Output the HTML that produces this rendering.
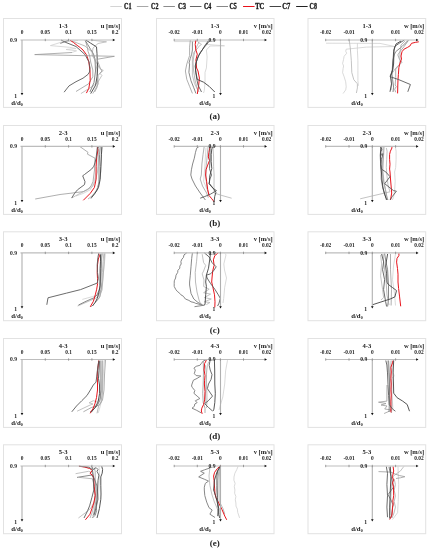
<!DOCTYPE html>
<html><head><meta charset="utf-8"><style>
html,body{margin:0;padding:0;background:#fff;width:429px;height:550px;overflow:hidden}
svg{display:block;will-change:transform}
</style></head><body>
<svg width="429" height="550" viewBox="0 0 429 550" font-family="Liberation Serif" font-weight="bold">
<rect width="429" height="550" fill="#fff"/>
<line x1="110.30" y1="6.5" x2="121.80" y2="6.5" stroke="#d4d4d4" stroke-width="1"/>
<text x="124.00" y="8.9" font-size="7.2" fill="#1a1a1a" stroke="#1a1a1a" stroke-width="0.3" textLength="7.60" lengthAdjust="spacingAndGlyphs">C1</text>
<line x1="136.85" y1="6.5" x2="148.35" y2="6.5" stroke="#a8a8a8" stroke-width="1"/>
<text x="151.10" y="8.9" font-size="7.2" fill="#1a1a1a" stroke="#1a1a1a" stroke-width="0.3" textLength="7.30" lengthAdjust="spacingAndGlyphs">C2</text>
<line x1="163.40" y1="6.5" x2="174.90" y2="6.5" stroke="#8c8c8c" stroke-width="1"/>
<text x="178.10" y="8.9" font-size="7.2" fill="#1a1a1a" stroke="#1a1a1a" stroke-width="0.3" textLength="8.10" lengthAdjust="spacingAndGlyphs">C3</text>
<line x1="189.95" y1="6.5" x2="201.45" y2="6.5" stroke="#666" stroke-width="1"/>
<text x="203.90" y="8.9" font-size="7.2" fill="#1a1a1a" stroke="#1a1a1a" stroke-width="0.3" textLength="7.40" lengthAdjust="spacingAndGlyphs">C4</text>
<line x1="216.50" y1="6.5" x2="228.00" y2="6.5" stroke="#888" stroke-width="1"/>
<text x="229.50" y="8.9" font-size="7.2" fill="#1a1a1a" stroke="#1a1a1a" stroke-width="0.3" textLength="7.40" lengthAdjust="spacingAndGlyphs">C5</text>
<line x1="243.05" y1="6.5" x2="254.55" y2="6.5" stroke="#e8111a" stroke-width="1"/>
<text x="255.30" y="8.9" font-size="7.2" fill="#1a1a1a" stroke="#1a1a1a" stroke-width="0.3" textLength="9.00" lengthAdjust="spacingAndGlyphs">TC</text>
<line x1="269.60" y1="6.5" x2="281.10" y2="6.5" stroke="#444" stroke-width="1"/>
<text x="282.30" y="8.9" font-size="7.2" fill="#1a1a1a" stroke="#1a1a1a" stroke-width="0.3" textLength="8.00" lengthAdjust="spacingAndGlyphs">C7</text>
<line x1="296.15" y1="6.5" x2="307.65" y2="6.5" stroke="#222" stroke-width="1"/>
<text x="309.60" y="8.9" font-size="7.2" fill="#1a1a1a" stroke="#1a1a1a" stroke-width="0.3" textLength="7.30" lengthAdjust="spacingAndGlyphs">C8</text>
<rect x="3.50" y="18.50" width="118.00" height="88.90" fill="none" stroke="#e2e2e2" stroke-width="1"/>
<polyline points="78.0,40.5 61.5,42.1 50.4,45.6 69.6,47.3 76.0,48.5 66.0,49.5 76.6,50.8 72.0,52.5 72.0,52.5" fill="none" stroke="#d0d0d0" stroke-width="0.8" stroke-linejoin="round"/>
<polyline points="91.8,40.2 106.5,41.8 98.0,43.5 93.0,48.0 92.0,55.0 96.0,62.0 99.8,68.4 103.3,70.5 99.8,73.3 101.9,75.4 98.0,82.0 94.2,85.2 80.9,93.6" fill="none" stroke="#b4b4b4" stroke-width="0.8" stroke-linejoin="round"/>
<polyline points="85.5,41.1 87.1,46.4 88.1,51.6 89.7,55.8 90.7,62.0 92.8,70.0 92.8,76.8 88.6,83.8 76.0,91.5" fill="none" stroke="#9a9a9a" stroke-width="0.8" stroke-linejoin="round"/>
<polyline points="85.0,40.1 87.6,44.3 90.7,49.5 93.4,53.7 95.0,59.0 95.5,71.0 94.0,82.6 89.9,92.0" fill="none" stroke="#7a7a7a" stroke-width="0.9" stroke-linejoin="round"/>
<polyline points="72.0,41.0 85.0,46.0 92.0,52.0 95.0,60.0 97.0,70.0 98.4,83.8 92.8,93.6" fill="none" stroke="#a8a8a8" stroke-width="0.8" stroke-linejoin="round"/>
<polyline points="70.1,40.2 73.5,42.5 77.1,45.3 80.5,47.8 83.0,50.0 86.4,54.6 88.8,61.6 90.0,71.0 90.2,80.3 88.8,88.4 86.4,93.1" fill="none" stroke="#e8141c" stroke-width="1.0" stroke-linejoin="round"/>
<polyline points="61.0,40.0 66.0,42.5 76.0,46.5 85.0,54.6 89.0,62.0 90.0,68.0 89.5,72.0 87.9,74.5 83.0,78.2 76.0,81.7 69.0,85.9 64.1,92.2" fill="none" stroke="#5a5a5a" stroke-width="0.9" stroke-linejoin="round"/>
<polyline points="86.0,40.1 90.7,43.2 96.5,46.9 97.0,53.7 97.3,62.0 97.7,67.0 97.0,76.8 95.6,85.2 90.7,93.6" fill="none" stroke="#424242" stroke-width="0.9" stroke-linejoin="round"/>
<polyline points="60.3,43.4 64.0,42.0 68.5,40.3" fill="none" stroke="#7a7a7a" stroke-width="0.9" stroke-linejoin="round"/>
<polyline points="72.0,52.5 34.7,54.6 114.4,56.3 97.0,59.3 100.4,68.6 102.0,71.0 98.0,75.6 97.0,87.3 94.6,92.0" fill="none" stroke="#9a9a9a" stroke-width="0.8" stroke-linejoin="round"/>
<line x1="20.50" y1="40.00" x2="114.20" y2="40.00" stroke="#bdbdbd" stroke-width="1.2"/>
<line x1="22.00" y1="40.00" x2="22.00" y2="94.30" stroke="#b0b0b0" stroke-width="1.1"/>
<line x1="45.30" y1="38.80" x2="45.30" y2="41.20" stroke="#888" stroke-width="0.8"/>
<line x1="68.60" y1="38.80" x2="68.60" y2="41.20" stroke="#888" stroke-width="0.8"/>
<line x1="91.90" y1="38.80" x2="91.90" y2="41.20" stroke="#888" stroke-width="0.8"/>
<path d="M115.20,40.00 L112.80,38.70 L112.80,41.30Z" fill="#111"/>
<path d="M22.00,95.30 L20.70,92.90 L23.30,92.90Z" fill="#111"/>
<text x="22.00" y="34.40" font-size="5.4" text-anchor="middle" fill="#222" >0</text>
<text x="45.30" y="34.40" font-size="5.4" text-anchor="middle" fill="#222" >0.05</text>
<text x="68.60" y="34.40" font-size="5.4" text-anchor="middle" fill="#222" >0.1</text>
<text x="91.90" y="34.40" font-size="5.4" text-anchor="middle" fill="#222" >0.15</text>
<text x="115.20" y="34.40" font-size="5.4" text-anchor="middle" fill="#222" >0.2</text>
<text x="63.20" y="27.70" font-size="6.6" text-anchor="middle" fill="#222" >1-3</text>
<text x="120.10" y="27.50" font-size="6.5" text-anchor="end" fill="#222" >u [m/s]</text>
<text x="13.60" y="41.90" font-size="5.6" text-anchor="middle" fill="#222" >0.9</text>
<text x="15.60" y="97.60" font-size="5.6" text-anchor="middle" fill="#222" >1</text>
<text x="17.00" y="104.90" font-size="6.8" text-anchor="middle" fill="#222" >d/d<tspan font-size="4" dy="1.2">0</tspan></text>
<rect x="156.50" y="18.50" width="117.50" height="88.90" fill="none" stroke="#e2e2e2" stroke-width="1"/>
<polyline points="174.2,41.6 209.0,41.6 206.4,44.4 224.5,45.8 210.0,46.0 206.4,50.0 207.1,57.0 206.4,68.0 205.0,72.4 205.0,82.2 204.3,90.6 203.5,93.0" fill="none" stroke="#d0d0d0" stroke-width="0.8" stroke-linejoin="round"/>
<polyline points="198.0,42.3 201.5,44.4 198.7,46.5 198.0,48.0 194.0,52.0 192.4,58.0 192.4,64.0 192.4,75.2 194.5,83.6 198.0,90.6" fill="none" stroke="#b4b4b4" stroke-width="0.8" stroke-linejoin="round"/>
<polyline points="190.3,40.2 189.6,47.2 189.6,55.6 188.2,59.8 186.8,64.0 185.4,71.0 186.8,79.4 189.6,86.4 192.4,93.4" fill="none" stroke="#9a9a9a" stroke-width="0.8" stroke-linejoin="round"/>
<polyline points="192.4,41.6 192.4,50.0 191.7,54.2 190.3,58.4 189.0,63.0 189.6,64.0 188.9,72.4 191.0,80.8 193.8,87.8 195.9,93.4" fill="none" stroke="#7a7a7a" stroke-width="0.9" stroke-linejoin="round"/>
<polyline points="199.0,42.0 196.0,48.0 194.0,55.0 193.0,62.0 193.5,70.0 195.0,80.0 197.0,88.0 199.0,92.0" fill="none" stroke="#a8a8a8" stroke-width="0.8" stroke-linejoin="round"/>
<polyline points="195.9,40.2 195.2,44.4 195.9,50.0 197.3,54.2 195.9,59.8 196.6,68.0 198.0,71.0 199.4,78.0 198.7,85.0 197.3,94.0" fill="none" stroke="#e8141c" stroke-width="1.0" stroke-linejoin="round"/>
<polyline points="208.5,42.3 204.3,47.2 200.1,52.8 197.3,58.4 195.9,64.0 195.5,70.0 196.6,78.0 198.0,85.0 201.5,92.0" fill="none" stroke="#5a5a5a" stroke-width="0.9" stroke-linejoin="round"/>
<polyline points="208.5,40.9 205.7,44.4 202.2,50.0 198.7,55.6 196.6,61.2 195.2,66.0 195.9,72.4 197.3,79.4 203.6,82.2 209.2,86.4 214.8,92.0" fill="none" stroke="#424242" stroke-width="0.9" stroke-linejoin="round"/>
<line x1="174.20" y1="40.00" x2="266.00" y2="40.00" stroke="#bdbdbd" stroke-width="1.2"/>
<line x1="220.50" y1="40.00" x2="220.50" y2="94.30" stroke="#b0b0b0" stroke-width="1.1"/>
<line x1="174.20" y1="38.80" x2="174.20" y2="41.20" stroke="#888" stroke-width="0.8"/>
<line x1="197.30" y1="38.80" x2="197.30" y2="41.20" stroke="#888" stroke-width="0.8"/>
<line x1="220.40" y1="38.80" x2="220.40" y2="41.20" stroke="#888" stroke-width="0.8"/>
<line x1="243.50" y1="38.80" x2="243.50" y2="41.20" stroke="#888" stroke-width="0.8"/>
<path d="M267.00,40.00 L264.60,38.70 L264.60,41.30Z" fill="#111"/>
<path d="M220.50,95.30 L219.20,92.90 L221.80,92.90Z" fill="#111"/>
<text x="174.20" y="34.40" font-size="5.4" text-anchor="middle" fill="#222" >-0.02</text>
<text x="197.30" y="34.40" font-size="5.4" text-anchor="middle" fill="#222" >-0.01</text>
<text x="220.40" y="34.40" font-size="5.4" text-anchor="middle" fill="#222" >0</text>
<text x="243.50" y="34.40" font-size="5.4" text-anchor="middle" fill="#222" >0.01</text>
<text x="266.60" y="34.40" font-size="5.4" text-anchor="middle" fill="#222" >0.02</text>
<text x="215.00" y="27.70" font-size="6.6" text-anchor="middle" fill="#222" >1-3</text>
<text x="272.60" y="27.50" font-size="6.5" text-anchor="end" fill="#222" >v [m/s]</text>
<text x="212.00" y="41.90" font-size="5.6" text-anchor="middle" fill="#222" >0.9</text>
<text x="213.90" y="97.60" font-size="5.6" text-anchor="middle" fill="#222" >1</text>
<text x="205.10" y="104.90" font-size="6.8" text-anchor="middle" fill="#222" >d/d<tspan font-size="4" dy="1.2">0</tspan></text>
<rect x="308.00" y="18.50" width="117.70" height="88.90" fill="none" stroke="#e2e2e2" stroke-width="1"/>
<polyline points="326.0,43.2 380.0,43.4 394.7,46.5 366.5,47.1 346.2,49.2 345.7,51.2 346.7,53.2 344.1,56.3 343.6,59.3 342.6,63.4 343.6,66.0 343.1,68.5 342.6,72.6 344.1,76.7 345.7,81.8 346.2,86.8 345.7,89.9 343.1,93.5" fill="none" stroke="#d0d0d0" stroke-width="0.8" stroke-linejoin="round"/>
<polyline points="349.2,40.0 350.3,48.1 351.3,60.4 351.8,72.6 353.8,79.7 357.4,83.8 357.4,87.9 356.4,93.0" fill="none" stroke="#b4b4b4" stroke-width="0.8" stroke-linejoin="round"/>
<polyline points="408.3,40.7 404.1,46.5 399.9,51.7 397.8,54.9 399.4,59.1 402.0,62.2 398.9,65.4 395.7,69.0 395.7,77.6 395.2,85.0 396.3,86.6 394.7,89.2 395.7,92.3" fill="none" stroke="#9a9a9a" stroke-width="0.8" stroke-linejoin="round"/>
<polyline points="408.3,40.2 402.0,46.5 395.7,51.7 394.2,54.9 393.0,60.0 392.6,64.0 392.0,74.5 392.6,79.7 393.6,87.1 393.0,92.0" fill="none" stroke="#7a7a7a" stroke-width="0.9" stroke-linejoin="round"/>
<polyline points="405.0,41.0 401.0,45.0 400.0,52.0 399.9,64.0 395.7,68.2 390.5,75.5 392.0,82.0 391.0,90.0" fill="none" stroke="#a8a8a8" stroke-width="0.8" stroke-linejoin="round"/>
<polyline points="418.8,41.8 415.7,42.3 411.5,43.3 409.9,46.0 407.3,47.5 404.1,49.1 402.0,51.7 401.0,56.0 401.5,59.1 399.9,63.3 398.9,67.5 398.4,74.5 398.0,79.7 397.8,85.0 397.6,93.4" fill="none" stroke="#e8141c" stroke-width="1.0" stroke-linejoin="round"/>
<polyline points="404.1,40.2 399.9,42.8 394.7,46.5 393.6,51.7 393.1,60.1 392.6,69.6 390.0,76.6 398.9,79.7 410.4,84.5 407.8,91.8" fill="none" stroke="#5a5a5a" stroke-width="0.9" stroke-linejoin="round"/>
<polyline points="401.0,41.0 396.0,44.0 394.0,50.0 393.6,64.0 392.6,70.3 390.5,76.6 391.5,83.9 390.0,91.8" fill="none" stroke="#424242" stroke-width="0.9" stroke-linejoin="round"/>
<polyline points="357.4,43.1 357.4,50.2 357.9,60.4 357.9,70.6 357.9,80.7 358.4,85.8" fill="none" stroke="#d0d0d0" stroke-width="0.8" stroke-linejoin="round"/>
<line x1="325.70" y1="40.00" x2="417.50" y2="40.00" stroke="#bdbdbd" stroke-width="1.2"/>
<line x1="372.30" y1="40.00" x2="372.30" y2="94.30" stroke="#b0b0b0" stroke-width="1.1"/>
<line x1="325.70" y1="38.80" x2="325.70" y2="41.20" stroke="#888" stroke-width="0.8"/>
<line x1="349.00" y1="38.80" x2="349.00" y2="41.20" stroke="#888" stroke-width="0.8"/>
<line x1="372.30" y1="38.80" x2="372.30" y2="41.20" stroke="#888" stroke-width="0.8"/>
<line x1="395.60" y1="38.80" x2="395.60" y2="41.20" stroke="#888" stroke-width="0.8"/>
<path d="M418.50,40.00 L416.10,38.70 L416.10,41.30Z" fill="#111"/>
<path d="M372.30,95.30 L371.00,92.90 L373.60,92.90Z" fill="#111"/>
<text x="325.70" y="34.40" font-size="5.4" text-anchor="middle" fill="#222" >-0.02</text>
<text x="349.00" y="34.40" font-size="5.4" text-anchor="middle" fill="#222" >-0.01</text>
<text x="372.30" y="34.40" font-size="5.4" text-anchor="middle" fill="#222" >0</text>
<text x="395.60" y="34.40" font-size="5.4" text-anchor="middle" fill="#222" >0.01</text>
<text x="418.90" y="34.40" font-size="5.4" text-anchor="middle" fill="#222" >0.02</text>
<text x="366.80" y="27.70" font-size="6.6" text-anchor="middle" fill="#222" >1-3</text>
<text x="424.30" y="27.50" font-size="6.5" text-anchor="end" fill="#222" >w [m/s]</text>
<text x="363.80" y="41.90" font-size="5.6" text-anchor="middle" fill="#222" >0.9</text>
<text x="365.70" y="97.60" font-size="5.6" text-anchor="middle" fill="#222" >1</text>
<text x="356.90" y="104.90" font-size="6.8" text-anchor="middle" fill="#222" >d/d<tspan font-size="4" dy="1.2">0</tspan></text>
<text x="214.80" y="119.20" font-size="9.0" text-anchor="middle" fill="#222" >(a)</text>
<rect x="3.50" y="125.50" width="118.00" height="88.90" fill="none" stroke="#e2e2e2" stroke-width="1"/>
<polyline points="98.0,147.0 97.0,160.0 96.0,172.0 94.0,182.0 90.3,189.8 83.0,193.5 76.0,196.0" fill="none" stroke="#d0d0d0" stroke-width="0.8" stroke-linejoin="round"/>
<polyline points="98.5,147.0 98.5,160.0 97.5,172.0 95.0,181.7 92.6,186.5 88.0,189.5 79.8,193.5 71.7,198.0" fill="none" stroke="#b4b4b4" stroke-width="0.8" stroke-linejoin="round"/>
<polyline points="79.8,146.5 88.0,152.3 87.4,154.1 95.0,158.2 94.5,170.0 93.0,181.7 91.0,186.0 88.0,189.0 83.3,191.6 75.2,192.7 60.0,194.5 35.2,199.0" fill="none" stroke="#9a9a9a" stroke-width="0.8" stroke-linejoin="round"/>
<polyline points="100.2,147.1 99.6,154.7 99.0,166.3 99.0,181.7 97.3,189.8 93.8,194.5 90.9,198.6" fill="none" stroke="#7a7a7a" stroke-width="0.9" stroke-linejoin="round"/>
<polyline points="101.5,146.5 101.4,160.0 100.8,172.0 98.5,185.0 96.0,191.0 92.0,196.0 88.0,199.0" fill="none" stroke="#a8a8a8" stroke-width="0.8" stroke-linejoin="round"/>
<polyline points="97.3,147.1 97.9,150.0 96.7,157.0 96.1,166.3 96.1,179.3 94.4,187.5 90.3,193.3 83.3,200.3" fill="none" stroke="#e8141c" stroke-width="1.0" stroke-linejoin="round"/>
<polyline points="99.3,146.5 97.3,147.7 96.1,158.2 95.0,162.8 93.8,166.3 91.5,169.2 84.5,174.5 82.7,175.8 85.0,181.7 84.5,184.6 77.5,189.8 74.6,193.3 71.7,198.0" fill="none" stroke="#5a5a5a" stroke-width="0.9" stroke-linejoin="round"/>
<polyline points="102.0,147.1 101.4,154.7 100.8,166.3 100.2,179.3 98.5,187.5 95.0,193.3 91.5,197.4" fill="none" stroke="#424242" stroke-width="0.9" stroke-linejoin="round"/>
<line x1="20.50" y1="146.40" x2="114.20" y2="146.40" stroke="#bdbdbd" stroke-width="1.2"/>
<line x1="22.00" y1="146.40" x2="22.00" y2="201.30" stroke="#b0b0b0" stroke-width="1.1"/>
<line x1="45.30" y1="145.20" x2="45.30" y2="147.60" stroke="#888" stroke-width="0.8"/>
<line x1="68.60" y1="145.20" x2="68.60" y2="147.60" stroke="#888" stroke-width="0.8"/>
<line x1="91.90" y1="145.20" x2="91.90" y2="147.60" stroke="#888" stroke-width="0.8"/>
<path d="M115.20,146.40 L112.80,145.10 L112.80,147.70Z" fill="#111"/>
<path d="M22.00,202.30 L20.70,199.90 L23.30,199.90Z" fill="#111"/>
<text x="22.00" y="140.80" font-size="5.4" text-anchor="middle" fill="#222" >0</text>
<text x="45.30" y="140.80" font-size="5.4" text-anchor="middle" fill="#222" >0.05</text>
<text x="68.60" y="140.80" font-size="5.4" text-anchor="middle" fill="#222" >0.1</text>
<text x="91.90" y="140.80" font-size="5.4" text-anchor="middle" fill="#222" >0.15</text>
<text x="115.20" y="140.80" font-size="5.4" text-anchor="middle" fill="#222" >0.2</text>
<text x="63.20" y="134.70" font-size="6.6" text-anchor="middle" fill="#222" >2-3</text>
<text x="120.10" y="134.50" font-size="6.5" text-anchor="end" fill="#222" >u [m/s]</text>
<text x="13.60" y="148.30" font-size="5.6" text-anchor="middle" fill="#222" >0.9</text>
<text x="15.60" y="204.60" font-size="5.6" text-anchor="middle" fill="#222" >1</text>
<text x="17.00" y="211.90" font-size="6.8" text-anchor="middle" fill="#222" >d/d<tspan font-size="4" dy="1.2">0</tspan></text>
<rect x="156.50" y="125.50" width="117.50" height="88.90" fill="none" stroke="#e2e2e2" stroke-width="1"/>
<polyline points="206.0,147.7 205.4,157.0 204.8,166.3 204.2,175.0 203.6,181.3 207.1,189.5 210.0,195.0" fill="none" stroke="#d0d0d0" stroke-width="0.8" stroke-linejoin="round"/>
<polyline points="213.0,147.7 213.6,157.0 213.6,166.3 214.1,175.0 214.0,185.0 214.1,193.0 222.0,195.5 231.6,198.2" fill="none" stroke="#b4b4b4" stroke-width="0.8" stroke-linejoin="round"/>
<polyline points="204.2,146.5 203.0,154.7 201.9,164.0 201.3,175.0 200.2,179.0 202.5,186.0 206.6,193.0 208.3,197.6" fill="none" stroke="#9a9a9a" stroke-width="0.8" stroke-linejoin="round"/>
<polyline points="199.0,146.5 196.7,148.2 195.5,152.3 194.3,158.2 192.6,164.0 191.4,169.8 190.8,175.0 192.0,179.0 195.5,186.0 200.2,193.0 205.4,200.0" fill="none" stroke="#7a7a7a" stroke-width="0.9" stroke-linejoin="round"/>
<polyline points="208.0,147.0 207.0,158.0 206.0,168.0 206.0,178.0 207.0,188.0 209.0,195.0" fill="none" stroke="#a8a8a8" stroke-width="0.8" stroke-linejoin="round"/>
<polyline points="210.0,146.5 208.9,152.3 208.3,157.0 209.5,160.5 207.7,165.1 206.0,169.8 205.6,175.0 206.6,181.3 207.7,189.5 208.9,195.3 211.8,198.8 214.1,201.7" fill="none" stroke="#e8141c" stroke-width="1.0" stroke-linejoin="round"/>
<polyline points="210.0,145.9 210.0,152.3 210.0,160.5 209.5,168.6 211.5,175.0 210.0,179.0 208.9,183.7 213.0,188.3 216.5,190.6 210.6,194.1 204.8,196.5 200.2,198.2" fill="none" stroke="#5a5a5a" stroke-width="0.9" stroke-linejoin="round"/>
<polyline points="214.1,145.9 211.8,148.8 211.2,154.7 211.2,161.6 211.8,168.6 210.0,175.0 209.5,177.8 209.5,183.7 214.1,189.5 215.9,192.4 214.7,196.5 214.1,201.7" fill="none" stroke="#424242" stroke-width="0.9" stroke-linejoin="round"/>
<line x1="174.20" y1="146.40" x2="266.00" y2="146.40" stroke="#bdbdbd" stroke-width="1.2"/>
<line x1="220.50" y1="146.40" x2="220.50" y2="201.30" stroke="#b0b0b0" stroke-width="1.1"/>
<line x1="174.20" y1="145.20" x2="174.20" y2="147.60" stroke="#888" stroke-width="0.8"/>
<line x1="197.30" y1="145.20" x2="197.30" y2="147.60" stroke="#888" stroke-width="0.8"/>
<line x1="220.40" y1="145.20" x2="220.40" y2="147.60" stroke="#888" stroke-width="0.8"/>
<line x1="243.50" y1="145.20" x2="243.50" y2="147.60" stroke="#888" stroke-width="0.8"/>
<path d="M267.00,146.40 L264.60,145.10 L264.60,147.70Z" fill="#111"/>
<path d="M220.50,202.30 L219.20,199.90 L221.80,199.90Z" fill="#111"/>
<text x="174.20" y="140.80" font-size="5.4" text-anchor="middle" fill="#222" >-0.02</text>
<text x="197.30" y="140.80" font-size="5.4" text-anchor="middle" fill="#222" >-0.01</text>
<text x="220.40" y="140.80" font-size="5.4" text-anchor="middle" fill="#222" >0</text>
<text x="243.50" y="140.80" font-size="5.4" text-anchor="middle" fill="#222" >0.01</text>
<text x="266.60" y="140.80" font-size="5.4" text-anchor="middle" fill="#222" >0.02</text>
<text x="215.00" y="134.70" font-size="6.6" text-anchor="middle" fill="#222" >2-3</text>
<text x="272.60" y="134.50" font-size="6.5" text-anchor="end" fill="#222" >v [m/s]</text>
<text x="212.00" y="148.30" font-size="5.6" text-anchor="middle" fill="#222" >0.9</text>
<text x="213.90" y="204.60" font-size="5.6" text-anchor="middle" fill="#222" >1</text>
<text x="205.10" y="211.90" font-size="6.8" text-anchor="middle" fill="#222" >d/d<tspan font-size="4" dy="1.2">0</tspan></text>
<rect x="308.00" y="125.50" width="117.70" height="88.90" fill="none" stroke="#e2e2e2" stroke-width="1"/>
<polyline points="395.3,146.3 396.1,151.2 396.1,159.3 395.7,167.5 394.6,172.0 395.2,181.3 394.6,190.6 393.5,197.6 392.3,200.0" fill="none" stroke="#d0d0d0" stroke-width="0.8" stroke-linejoin="round"/>
<polyline points="386.3,147.9 387.1,151.2 386.7,159.3 386.3,167.5 387.0,176.0 388.0,185.0 390.0,191.8 375.0,195.3 360.2,198.8" fill="none" stroke="#b4b4b4" stroke-width="0.8" stroke-linejoin="round"/>
<polyline points="384.0,147.0 383.5,157.0 383.0,165.0 382.4,172.0 383.6,181.3 385.3,189.5 387.0,197.0 388.0,200.0" fill="none" stroke="#9a9a9a" stroke-width="0.8" stroke-linejoin="round"/>
<polyline points="381.4,147.9 380.6,151.2 380.2,155.2 380.6,163.4 381.2,172.0 381.2,179.0 382.4,186.0 384.1,193.0 385.9,197.6 387.6,200.0" fill="none" stroke="#7a7a7a" stroke-width="0.9" stroke-linejoin="round"/>
<polyline points="383.0,147.0 383.0,155.0 382.5,163.0 383.0,172.0 384.0,182.0 386.0,192.0 387.0,199.0" fill="none" stroke="#a8a8a8" stroke-width="0.8" stroke-linejoin="round"/>
<polyline points="391.6,146.7 392.0,147.9 390.4,151.2 389.6,154.4 389.6,159.3 390.0,164.2 389.6,169.1 390.0,172.0 390.5,179.0 391.1,186.0 391.7,193.0 390.5,200.0" fill="none" stroke="#e8141c" stroke-width="1.0" stroke-linejoin="round"/>
<polyline points="380.6,147.1 381.8,149.5 380.6,152.0 381.4,155.2 383.0,153.6 382.2,156.9 381.4,159.3 381.0,164.2 381.4,169.1 385.9,172.0 390.0,176.7 384.7,183.7 393.5,190.6 396.4,191.2 392.3,196.5 390.0,200.0" fill="none" stroke="#5a5a5a" stroke-width="0.9" stroke-linejoin="round"/>
<polyline points="381.0,147.0 380.5,155.0 380.8,165.0 381.4,172.0 382.0,180.0 383.0,188.0 385.0,195.0 386.5,200.0" fill="none" stroke="#424242" stroke-width="0.9" stroke-linejoin="round"/>
<line x1="325.70" y1="146.40" x2="417.50" y2="146.40" stroke="#bdbdbd" stroke-width="1.2"/>
<line x1="372.30" y1="146.40" x2="372.30" y2="201.30" stroke="#b0b0b0" stroke-width="1.1"/>
<line x1="325.70" y1="145.20" x2="325.70" y2="147.60" stroke="#888" stroke-width="0.8"/>
<line x1="349.00" y1="145.20" x2="349.00" y2="147.60" stroke="#888" stroke-width="0.8"/>
<line x1="372.30" y1="145.20" x2="372.30" y2="147.60" stroke="#888" stroke-width="0.8"/>
<line x1="395.60" y1="145.20" x2="395.60" y2="147.60" stroke="#888" stroke-width="0.8"/>
<path d="M418.50,146.40 L416.10,145.10 L416.10,147.70Z" fill="#111"/>
<path d="M372.30,202.30 L371.00,199.90 L373.60,199.90Z" fill="#111"/>
<text x="325.70" y="140.80" font-size="5.4" text-anchor="middle" fill="#222" >-0.02</text>
<text x="349.00" y="140.80" font-size="5.4" text-anchor="middle" fill="#222" >-0.01</text>
<text x="372.30" y="140.80" font-size="5.4" text-anchor="middle" fill="#222" >0</text>
<text x="395.60" y="140.80" font-size="5.4" text-anchor="middle" fill="#222" >0.01</text>
<text x="418.90" y="140.80" font-size="5.4" text-anchor="middle" fill="#222" >0.02</text>
<text x="366.80" y="134.70" font-size="6.6" text-anchor="middle" fill="#222" >2-3</text>
<text x="424.30" y="134.50" font-size="6.5" text-anchor="end" fill="#222" >w [m/s]</text>
<text x="363.80" y="148.30" font-size="5.6" text-anchor="middle" fill="#222" >0.9</text>
<text x="365.70" y="204.60" font-size="5.6" text-anchor="middle" fill="#222" >1</text>
<text x="356.90" y="211.90" font-size="6.8" text-anchor="middle" fill="#222" >d/d<tspan font-size="4" dy="1.2">0</tspan></text>
<text x="214.80" y="226.20" font-size="9.0" text-anchor="middle" fill="#222" >(b)</text>
<rect x="3.50" y="231.80" width="118.00" height="88.90" fill="none" stroke="#e2e2e2" stroke-width="1"/>
<polyline points="105.4,253.4 104.6,261.2 103.5,272.0 102.5,282.0 101.0,290.0 98.5,295.0 92.5,296.6 82.3,299.4" fill="none" stroke="#d0d0d0" stroke-width="0.8" stroke-linejoin="round"/>
<polyline points="103.9,253.4 103.1,261.2 102.4,272.4 102.0,282.0 101.0,290.0 98.0,297.0 90.6,300.4 77.6,306.0" fill="none" stroke="#b4b4b4" stroke-width="0.8" stroke-linejoin="round"/>
<polyline points="102.4,253.4 101.6,259.0 101.3,268.7 100.9,282.0 101.4,287.3 100.0,296.6 98.1,299.4 95.0,302.0" fill="none" stroke="#9a9a9a" stroke-width="0.8" stroke-linejoin="round"/>
<polyline points="101.0,253.5 101.0,265.0 100.5,278.0 100.0,288.0 97.0,295.0 93.4,298.0 86.0,301.3 78.5,305.0" fill="none" stroke="#7a7a7a" stroke-width="0.9" stroke-linejoin="round"/>
<polyline points="104.5,253.5 104.0,265.0 103.0,278.0 102.0,290.0 99.0,298.0 95.0,303.0 91.0,307.0" fill="none" stroke="#a8a8a8" stroke-width="0.8" stroke-linejoin="round"/>
<polyline points="98.7,253.4 99.4,256.0 98.3,259.0 97.5,264.9 97.2,272.4 97.5,278.4 97.6,283.6 96.7,289.2 95.3,294.8 93.4,301.3 90.2,306.9" fill="none" stroke="#e8141c" stroke-width="1.0" stroke-linejoin="round"/>
<polyline points="98.7,253.4 97.9,257.5 97.2,264.9 97.5,272.4 98.3,278.4 97.2,283.1 80.6,289.6 66.6,293.1 48.0,297.8 46.8,304.8" fill="none" stroke="#5a5a5a" stroke-width="0.9" stroke-linejoin="round"/>
<polyline points="100.5,254.5 100.5,261.2 100.1,268.7 100.1,276.1 100.0,285.5 99.0,292.0 97.2,298.5 95.3,302.2 92.5,306.0" fill="none" stroke="#424242" stroke-width="0.9" stroke-linejoin="round"/>
<line x1="20.50" y1="252.90" x2="114.20" y2="252.90" stroke="#bdbdbd" stroke-width="1.2"/>
<line x1="22.00" y1="252.90" x2="22.00" y2="307.60" stroke="#b0b0b0" stroke-width="1.1"/>
<line x1="45.30" y1="251.70" x2="45.30" y2="254.10" stroke="#888" stroke-width="0.8"/>
<line x1="68.60" y1="251.70" x2="68.60" y2="254.10" stroke="#888" stroke-width="0.8"/>
<line x1="91.90" y1="251.70" x2="91.90" y2="254.10" stroke="#888" stroke-width="0.8"/>
<path d="M115.20,252.90 L112.80,251.60 L112.80,254.20Z" fill="#111"/>
<path d="M22.00,308.60 L20.70,306.20 L23.30,306.20Z" fill="#111"/>
<text x="22.00" y="247.30" font-size="5.4" text-anchor="middle" fill="#222" >0</text>
<text x="45.30" y="247.30" font-size="5.4" text-anchor="middle" fill="#222" >0.05</text>
<text x="68.60" y="247.30" font-size="5.4" text-anchor="middle" fill="#222" >0.1</text>
<text x="91.90" y="247.30" font-size="5.4" text-anchor="middle" fill="#222" >0.15</text>
<text x="115.20" y="247.30" font-size="5.4" text-anchor="middle" fill="#222" >0.2</text>
<text x="63.20" y="241.00" font-size="6.6" text-anchor="middle" fill="#222" >3-3</text>
<text x="120.10" y="240.80" font-size="6.5" text-anchor="end" fill="#222" >u [m/s]</text>
<text x="13.60" y="254.80" font-size="5.6" text-anchor="middle" fill="#222" >0.9</text>
<text x="15.60" y="310.90" font-size="5.6" text-anchor="middle" fill="#222" >1</text>
<text x="17.00" y="318.20" font-size="6.8" text-anchor="middle" fill="#222" >d/d<tspan font-size="4" dy="1.2">0</tspan></text>
<rect x="156.50" y="231.80" width="117.50" height="88.90" fill="none" stroke="#e2e2e2" stroke-width="1"/>
<polyline points="225.0,253.5 226.0,254.9 223.8,264.0 224.5,270.0 226.5,278.0 224.7,287.3 223.7,298.5 223.0,303.0" fill="none" stroke="#d0d0d0" stroke-width="0.8" stroke-linejoin="round"/>
<polyline points="202.2,254.2 203.6,262.6 205.7,265.4 203.6,271.0 202.2,273.8 204.0,280.0 203.6,286.4 209.2,289.2 203.6,292.7 210.6,294.1 204.3,297.6 211.3,299.0 204.3,301.8 209.9,302.5 206.4,304.6" fill="none" stroke="#b4b4b4" stroke-width="0.8" stroke-linejoin="round"/>
<polyline points="192.4,252.8 191.7,258.4 191.0,266.8 190.3,275.2 189.6,282.0 189.6,285.0 191.0,293.4 193.8,299.0 198.0,302.5 202.2,304.6" fill="none" stroke="#7a7a7a" stroke-width="0.9" stroke-linejoin="round"/>
<polyline points="197.3,252.8 196.6,261.2 195.2,272.4 195.5,282.0 197.0,292.0 199.0,300.0 201.0,305.0" fill="none" stroke="#a8a8a8" stroke-width="0.8" stroke-linejoin="round"/>
<polyline points="218.3,252.8 214.8,255.6 213.4,259.8 214.1,265.4 212.7,271.0 212.0,278.0 211.7,282.0 212.7,286.4 214.5,294.8 215.0,301.8 214.8,307.4" fill="none" stroke="#e8141c" stroke-width="1.0" stroke-linejoin="round"/>
<polyline points="204.3,252.8 209.2,257.0 212.0,262.6 216.2,266.8 213.4,271.0 210.6,273.8 206.4,275.2 207.1,278.0 210.6,283.6 214.8,289.2 218.3,294.8 220.3,298.3 219.0,303.2 217.6,306.0" fill="none" stroke="#5a5a5a" stroke-width="0.9" stroke-linejoin="round"/>
<polyline points="210.6,252.1 209.9,258.4 208.5,268.2 206.4,275.2 205.7,282.0 206.4,286.4 205.7,294.8 205.0,304.6 203.6,305.3" fill="none" stroke="#424242" stroke-width="0.9" stroke-linejoin="round"/>
<polyline points="186.8,252.8 184.0,254.9 183.3,257.7 181.9,259.1 180.9,261.6 181.2,264.0 179.8,266.1 179.8,268.2 177.9,270.3 177.7,272.4 176.0,275.2 175.6,278.0 174.3,280.8 174.2,283.6 174.2,286.4 175.6,289.2 177.2,291.3 179.8,293.4 180.9,294.8 183.3,296.2 185.4,299.0 188.9,300.4 191.0,301.8 194.1,302.5 195.3,303.2 198.0,303.9 200.3,304.6 203.6,305.3 194.5,306.7" fill="none" stroke="#7a7a7a" stroke-width="0.9" stroke-linejoin="round"/>
<line x1="174.20" y1="252.90" x2="266.00" y2="252.90" stroke="#bdbdbd" stroke-width="1.2"/>
<line x1="220.50" y1="252.90" x2="220.50" y2="307.60" stroke="#b0b0b0" stroke-width="1.1"/>
<line x1="174.20" y1="251.70" x2="174.20" y2="254.10" stroke="#888" stroke-width="0.8"/>
<line x1="197.30" y1="251.70" x2="197.30" y2="254.10" stroke="#888" stroke-width="0.8"/>
<line x1="220.40" y1="251.70" x2="220.40" y2="254.10" stroke="#888" stroke-width="0.8"/>
<line x1="243.50" y1="251.70" x2="243.50" y2="254.10" stroke="#888" stroke-width="0.8"/>
<path d="M267.00,252.90 L264.60,251.60 L264.60,254.20Z" fill="#111"/>
<path d="M220.50,308.60 L219.20,306.20 L221.80,306.20Z" fill="#111"/>
<text x="174.20" y="247.30" font-size="5.4" text-anchor="middle" fill="#222" >-0.02</text>
<text x="197.30" y="247.30" font-size="5.4" text-anchor="middle" fill="#222" >-0.01</text>
<text x="220.40" y="247.30" font-size="5.4" text-anchor="middle" fill="#222" >0</text>
<text x="243.50" y="247.30" font-size="5.4" text-anchor="middle" fill="#222" >0.01</text>
<text x="266.60" y="247.30" font-size="5.4" text-anchor="middle" fill="#222" >0.02</text>
<text x="215.00" y="241.00" font-size="6.6" text-anchor="middle" fill="#222" >3-3</text>
<text x="272.60" y="240.80" font-size="6.5" text-anchor="end" fill="#222" >v [m/s]</text>
<text x="212.00" y="254.80" font-size="5.6" text-anchor="middle" fill="#222" >0.9</text>
<text x="213.90" y="310.90" font-size="5.6" text-anchor="middle" fill="#222" >1</text>
<text x="205.10" y="318.20" font-size="6.8" text-anchor="middle" fill="#222" >d/d<tspan font-size="4" dy="1.2">0</tspan></text>
<rect x="308.00" y="231.80" width="117.70" height="88.90" fill="none" stroke="#e2e2e2" stroke-width="1"/>
<polyline points="395.5,254.0 393.5,265.9 392.5,279.7 394.5,293.6 395.5,305.5" fill="none" stroke="#d0d0d0" stroke-width="0.8" stroke-linejoin="round"/>
<polyline points="380.6,255.0 381.6,263.9 380.6,275.8 382.6,289.6 383.6,297.6 381.0,300.0" fill="none" stroke="#b4b4b4" stroke-width="0.8" stroke-linejoin="round"/>
<polyline points="390.5,254.0 390.5,269.8 391.5,289.6 391.1,305.5" fill="none" stroke="#9a9a9a" stroke-width="0.8" stroke-linejoin="round"/>
<polyline points="384.6,253.5 385.6,259.9 387.6,269.8 388.5,285.7 388.5,299.5 387.6,306.5" fill="none" stroke="#7a7a7a" stroke-width="0.9" stroke-linejoin="round"/>
<polyline points="383.0,254.0 384.0,265.0 386.0,280.0 387.0,295.0 389.0,305.0" fill="none" stroke="#a8a8a8" stroke-width="0.8" stroke-linejoin="round"/>
<polyline points="398.9,253.3 398.9,255.6 397.0,258.4 396.6,262.1 397.5,268.6 398.0,274.2 398.0,282.0 398.6,288.5 399.6,296.9 400.7,306.3" fill="none" stroke="#e8141c" stroke-width="1.0" stroke-linejoin="round"/>
<polyline points="381.6,254.0 383.6,261.9 382.6,269.8 384.6,279.7 383.6,289.6 385.6,301.5 386.6,306.5" fill="none" stroke="#5a5a5a" stroke-width="0.9" stroke-linejoin="round"/>
<polyline points="387.6,254.0 385.6,265.9 386.6,273.8 387.0,282.2 388.1,284.3 392.3,287.4 396.5,290.6 394.9,296.9 390.2,299.0 372.3,304.8" fill="none" stroke="#424242" stroke-width="0.9" stroke-linejoin="round"/>
<line x1="325.70" y1="252.90" x2="417.50" y2="252.90" stroke="#bdbdbd" stroke-width="1.2"/>
<line x1="372.30" y1="252.90" x2="372.30" y2="307.60" stroke="#b0b0b0" stroke-width="1.1"/>
<line x1="325.70" y1="251.70" x2="325.70" y2="254.10" stroke="#888" stroke-width="0.8"/>
<line x1="349.00" y1="251.70" x2="349.00" y2="254.10" stroke="#888" stroke-width="0.8"/>
<line x1="372.30" y1="251.70" x2="372.30" y2="254.10" stroke="#888" stroke-width="0.8"/>
<line x1="395.60" y1="251.70" x2="395.60" y2="254.10" stroke="#888" stroke-width="0.8"/>
<path d="M418.50,252.90 L416.10,251.60 L416.10,254.20Z" fill="#111"/>
<path d="M372.30,308.60 L371.00,306.20 L373.60,306.20Z" fill="#111"/>
<text x="325.70" y="247.30" font-size="5.4" text-anchor="middle" fill="#222" >-0.02</text>
<text x="349.00" y="247.30" font-size="5.4" text-anchor="middle" fill="#222" >-0.01</text>
<text x="372.30" y="247.30" font-size="5.4" text-anchor="middle" fill="#222" >0</text>
<text x="395.60" y="247.30" font-size="5.4" text-anchor="middle" fill="#222" >0.01</text>
<text x="418.90" y="247.30" font-size="5.4" text-anchor="middle" fill="#222" >0.02</text>
<text x="366.80" y="241.00" font-size="6.6" text-anchor="middle" fill="#222" >3-3</text>
<text x="424.30" y="240.80" font-size="6.5" text-anchor="end" fill="#222" >w [m/s]</text>
<text x="363.80" y="254.80" font-size="5.6" text-anchor="middle" fill="#222" >0.9</text>
<text x="365.70" y="310.90" font-size="5.6" text-anchor="middle" fill="#222" >1</text>
<text x="356.90" y="318.20" font-size="6.8" text-anchor="middle" fill="#222" >d/d<tspan font-size="4" dy="1.2">0</tspan></text>
<text x="214.80" y="332.50" font-size="9.0" text-anchor="middle" fill="#222" >(c)</text>
<rect x="3.50" y="338.50" width="118.00" height="88.90" fill="none" stroke="#e2e2e2" stroke-width="1"/>
<polyline points="104.5,360.0 103.5,371.0 103.0,385.0 102.4,395.0 101.0,403.0 99.3,409.6 98.1,413.1" fill="none" stroke="#d0d0d0" stroke-width="0.8" stroke-linejoin="round"/>
<polyline points="102.4,360.5 102.0,378.4 101.8,390.0 100.5,398.0 97.0,402.0 93.3,400.7 89.1,402.8 93.0,404.0 89.1,405.5 77.1,411.2" fill="none" stroke="#b4b4b4" stroke-width="0.8" stroke-linejoin="round"/>
<polyline points="105.5,360.0 104.5,375.0 104.0,390.0 102.5,400.0 99.5,405.0 91.2,407.6 83.4,411.8" fill="none" stroke="#9a9a9a" stroke-width="0.8" stroke-linejoin="round"/>
<polyline points="100.9,360.5 100.9,371.0 100.9,390.0 100.0,400.0 97.0,406.0 93.0,410.0 90.0,412.0" fill="none" stroke="#7a7a7a" stroke-width="0.9" stroke-linejoin="round"/>
<polyline points="102.8,360.5 102.5,375.0 102.4,392.0 101.0,402.0 98.6,406.0 97.0,413.3" fill="none" stroke="#a8a8a8" stroke-width="0.8" stroke-linejoin="round"/>
<polyline points="98.7,360.5 98.3,365.0 97.5,370.9 97.2,376.9 97.5,382.1 97.5,390.0 96.5,397.6 94.9,403.9 93.3,408.1 90.2,413.3" fill="none" stroke="#e8141c" stroke-width="1.0" stroke-linejoin="round"/>
<polyline points="99.0,360.5 97.9,365.7 96.8,376.1 96.0,382.1 93.3,385.0 90.4,390.0 87.0,395.5 81.8,400.7 76.5,406.0 71.8,411.8" fill="none" stroke="#5a5a5a" stroke-width="0.9" stroke-linejoin="round"/>
<polyline points="99.4,361.2 99.0,370.9 98.5,378.4 99.5,385.0 99.6,393.4 98.1,401.8 95.4,407.0 91.2,412.3" fill="none" stroke="#424242" stroke-width="0.9" stroke-linejoin="round"/>
<line x1="20.50" y1="359.50" x2="114.20" y2="359.50" stroke="#bdbdbd" stroke-width="1.2"/>
<line x1="22.00" y1="359.50" x2="22.00" y2="414.30" stroke="#b0b0b0" stroke-width="1.1"/>
<line x1="45.30" y1="358.30" x2="45.30" y2="360.70" stroke="#888" stroke-width="0.8"/>
<line x1="68.60" y1="358.30" x2="68.60" y2="360.70" stroke="#888" stroke-width="0.8"/>
<line x1="91.90" y1="358.30" x2="91.90" y2="360.70" stroke="#888" stroke-width="0.8"/>
<path d="M115.20,359.50 L112.80,358.20 L112.80,360.80Z" fill="#111"/>
<path d="M22.00,415.30 L20.70,412.90 L23.30,412.90Z" fill="#111"/>
<text x="22.00" y="353.90" font-size="5.4" text-anchor="middle" fill="#222" >0</text>
<text x="45.30" y="353.90" font-size="5.4" text-anchor="middle" fill="#222" >0.05</text>
<text x="68.60" y="353.90" font-size="5.4" text-anchor="middle" fill="#222" >0.1</text>
<text x="91.90" y="353.90" font-size="5.4" text-anchor="middle" fill="#222" >0.15</text>
<text x="115.20" y="353.90" font-size="5.4" text-anchor="middle" fill="#222" >0.2</text>
<text x="63.20" y="347.70" font-size="6.6" text-anchor="middle" fill="#222" >4-3</text>
<text x="120.10" y="347.50" font-size="6.5" text-anchor="end" fill="#222" >u [m/s]</text>
<text x="13.60" y="361.40" font-size="5.6" text-anchor="middle" fill="#222" >0.9</text>
<text x="15.60" y="417.60" font-size="5.6" text-anchor="middle" fill="#222" >1</text>
<text x="17.00" y="424.90" font-size="6.8" text-anchor="middle" fill="#222" >d/d<tspan font-size="4" dy="1.2">0</tspan></text>
<rect x="156.50" y="338.50" width="117.50" height="88.90" fill="none" stroke="#e2e2e2" stroke-width="1"/>
<polyline points="227.5,360.2 225.6,370.9 224.7,384.0 222.8,397.0 220.0,406.3 219.0,410.0" fill="none" stroke="#d0d0d0" stroke-width="0.8" stroke-linejoin="round"/>
<polyline points="208.8,361.6 207.4,365.3 206.4,374.6 206.4,384.0 206.9,393.3 207.0,402.0 206.5,408.0" fill="none" stroke="#b4b4b4" stroke-width="0.8" stroke-linejoin="round"/>
<polyline points="206.0,359.8 203.2,361.1 201.3,363.5 199.9,365.3 196.2,366.3 193.9,368.1 195.3,370.0 194.3,373.7 196.2,375.6 200.9,376.0 197.1,378.4 193.4,380.2 192.0,384.0 191.5,386.0 192.5,387.7 194.8,390.5 193.9,393.3 197.1,396.1 199.9,398.5 195.3,400.8 197.1,402.6 194.8,404.0 194.3,406.4 192.0,408.2 196.2,410.1 201.3,412.9" fill="none" stroke="#7a7a7a" stroke-width="0.9" stroke-linejoin="round"/>
<polyline points="205.5,365.3 206.4,374.6 206.0,384.0 205.5,395.0 206.0,405.0" fill="none" stroke="#a8a8a8" stroke-width="0.8" stroke-linejoin="round"/>
<polyline points="203.2,361.0 203.5,370.0 203.2,384.0 202.7,393.3 203.2,402.6 205.0,408.2 205.0,413.0" fill="none" stroke="#9a9a9a" stroke-width="0.8" stroke-linejoin="round"/>
<polyline points="206.4,360.2 204.6,363.5 204.1,370.0 205.0,375.6 204.6,380.2 204.4,384.0 205.0,391.5 204.6,399.9 203.6,404.5 201.8,408.2 201.3,411.0 202.2,413.8" fill="none" stroke="#e8141c" stroke-width="1.0" stroke-linejoin="round"/>
<polyline points="210.2,359.7 209.2,365.3 210.2,370.0 212.0,374.6 211.1,379.3 208.5,384.0 207.4,388.7 212.5,396.1 208.3,400.8 204.6,403.6 208.3,407.3 212.5,411.0" fill="none" stroke="#5a5a5a" stroke-width="0.9" stroke-linejoin="round"/>
<polyline points="214.4,359.7 214.7,370.0 214.8,384.0 215.3,393.3 214.8,402.6 213.9,409.2 213.0,411.0" fill="none" stroke="#424242" stroke-width="0.9" stroke-linejoin="round"/>
<line x1="174.20" y1="359.50" x2="266.00" y2="359.50" stroke="#bdbdbd" stroke-width="1.2"/>
<line x1="220.50" y1="359.50" x2="220.50" y2="414.30" stroke="#b0b0b0" stroke-width="1.1"/>
<line x1="174.20" y1="358.30" x2="174.20" y2="360.70" stroke="#888" stroke-width="0.8"/>
<line x1="197.30" y1="358.30" x2="197.30" y2="360.70" stroke="#888" stroke-width="0.8"/>
<line x1="220.40" y1="358.30" x2="220.40" y2="360.70" stroke="#888" stroke-width="0.8"/>
<line x1="243.50" y1="358.30" x2="243.50" y2="360.70" stroke="#888" stroke-width="0.8"/>
<path d="M267.00,359.50 L264.60,358.20 L264.60,360.80Z" fill="#111"/>
<path d="M220.50,415.30 L219.20,412.90 L221.80,412.90Z" fill="#111"/>
<text x="174.20" y="353.90" font-size="5.4" text-anchor="middle" fill="#222" >-0.02</text>
<text x="197.30" y="353.90" font-size="5.4" text-anchor="middle" fill="#222" >-0.01</text>
<text x="220.40" y="353.90" font-size="5.4" text-anchor="middle" fill="#222" >0</text>
<text x="243.50" y="353.90" font-size="5.4" text-anchor="middle" fill="#222" >0.01</text>
<text x="266.60" y="353.90" font-size="5.4" text-anchor="middle" fill="#222" >0.02</text>
<text x="215.00" y="347.70" font-size="6.6" text-anchor="middle" fill="#222" >4-3</text>
<text x="272.60" y="347.50" font-size="6.5" text-anchor="end" fill="#222" >v [m/s]</text>
<text x="212.00" y="361.40" font-size="5.6" text-anchor="middle" fill="#222" >0.9</text>
<text x="213.90" y="417.60" font-size="5.6" text-anchor="middle" fill="#222" >1</text>
<text x="205.10" y="424.90" font-size="6.8" text-anchor="middle" fill="#222" >d/d<tspan font-size="4" dy="1.2">0</tspan></text>
<rect x="308.00" y="338.50" width="117.70" height="88.90" fill="none" stroke="#e2e2e2" stroke-width="1"/>
<polyline points="392.0,360.5 392.5,370.0 394.2,376.3 392.0,378.0 392.0,395.0 393.0,410.0" fill="none" stroke="#d0d0d0" stroke-width="0.8" stroke-linejoin="round"/>
<polyline points="387.6,360.5 388.5,371.9 389.5,381.8 389.5,395.6 390.5,407.5" fill="none" stroke="#b4b4b4" stroke-width="0.8" stroke-linejoin="round"/>
<polyline points="387.0,385.0 386.9,395.0 386.9,401.1 378.5,402.2 386.0,403.5 381.0,405.0 387.0,406.0 384.7,409.0 392.0,410.0 384.1,413.5" fill="none" stroke="#9a9a9a" stroke-width="0.8" stroke-linejoin="round"/>
<polyline points="388.6,360.5 389.2,372.9 389.5,385.0 389.5,400.0 389.0,412.0" fill="none" stroke="#7a7a7a" stroke-width="0.9" stroke-linejoin="round"/>
<polyline points="391.0,360.5 390.5,375.0 391.5,390.0 392.0,405.0 391.5,413.0" fill="none" stroke="#a8a8a8" stroke-width="0.8" stroke-linejoin="round"/>
<polyline points="393.1,360.5 392.5,362.8 390.9,367.3 391.3,372.0 390.9,378.5 391.2,384.0 390.9,389.8 391.2,395.0 390.9,401.1 390.9,412.4" fill="none" stroke="#e8141c" stroke-width="1.0" stroke-linejoin="round"/>
<polyline points="385.8,360.5 386.9,365.0 387.5,372.9 388.0,384.2 388.6,395.5 389.2,404.5 392.5,409.0 395.4,411.2" fill="none" stroke="#5a5a5a" stroke-width="0.9" stroke-linejoin="round"/>
<polyline points="393.7,360.5 393.1,372.9 393.5,385.0 393.7,393.2 397.1,397.7 402.7,401.1 407.2,404.5 409.5,411.2" fill="none" stroke="#424242" stroke-width="0.9" stroke-linejoin="round"/>
<line x1="325.70" y1="359.50" x2="417.50" y2="359.50" stroke="#bdbdbd" stroke-width="1.2"/>
<line x1="372.30" y1="359.50" x2="372.30" y2="414.30" stroke="#b0b0b0" stroke-width="1.1"/>
<line x1="325.70" y1="358.30" x2="325.70" y2="360.70" stroke="#888" stroke-width="0.8"/>
<line x1="349.00" y1="358.30" x2="349.00" y2="360.70" stroke="#888" stroke-width="0.8"/>
<line x1="372.30" y1="358.30" x2="372.30" y2="360.70" stroke="#888" stroke-width="0.8"/>
<line x1="395.60" y1="358.30" x2="395.60" y2="360.70" stroke="#888" stroke-width="0.8"/>
<path d="M418.50,359.50 L416.10,358.20 L416.10,360.80Z" fill="#111"/>
<path d="M372.30,415.30 L371.00,412.90 L373.60,412.90Z" fill="#111"/>
<text x="325.70" y="353.90" font-size="5.4" text-anchor="middle" fill="#222" >-0.02</text>
<text x="349.00" y="353.90" font-size="5.4" text-anchor="middle" fill="#222" >-0.01</text>
<text x="372.30" y="353.90" font-size="5.4" text-anchor="middle" fill="#222" >0</text>
<text x="395.60" y="353.90" font-size="5.4" text-anchor="middle" fill="#222" >0.01</text>
<text x="418.90" y="353.90" font-size="5.4" text-anchor="middle" fill="#222" >0.02</text>
<text x="366.80" y="347.70" font-size="6.6" text-anchor="middle" fill="#222" >4-3</text>
<text x="424.30" y="347.50" font-size="6.5" text-anchor="end" fill="#222" >w [m/s]</text>
<text x="363.80" y="361.40" font-size="5.6" text-anchor="middle" fill="#222" >0.9</text>
<text x="365.70" y="417.60" font-size="5.6" text-anchor="middle" fill="#222" >1</text>
<text x="356.90" y="424.90" font-size="6.8" text-anchor="middle" fill="#222" >d/d<tspan font-size="4" dy="1.2">0</tspan></text>
<text x="214.80" y="439.20" font-size="9.0" text-anchor="middle" fill="#222" >(d)</text>
<rect x="3.50" y="444.80" width="118.00" height="88.90" fill="none" stroke="#e2e2e2" stroke-width="1"/>
<polyline points="99.0,466.0 99.5,475.0 99.0,485.0 98.5,495.0 97.0,505.0 95.0,512.0 92.0,518.0" fill="none" stroke="#d0d0d0" stroke-width="0.8" stroke-linejoin="round"/>
<polyline points="75.6,473.7 88.6,471.3 92.0,472.5 95.2,480.6 96.0,490.0 95.0,500.0 91.0,508.0 85.9,512.4 78.4,518.0" fill="none" stroke="#b4b4b4" stroke-width="0.8" stroke-linejoin="round"/>
<polyline points="94.2,467.6 95.2,471.3 95.2,480.6 96.1,490.0 96.0,500.0 94.5,510.0 93.0,516.0" fill="none" stroke="#9a9a9a" stroke-width="0.8" stroke-linejoin="round"/>
<polyline points="79.3,477.4 92.4,478.8 94.0,485.0 95.0,495.0 94.0,505.0 92.0,513.0 90.0,518.0" fill="none" stroke="#a8a8a8" stroke-width="0.8" stroke-linejoin="round"/>
<polyline points="77.0,477.4 91.4,475.1 94.0,478.0 97.0,486.0 98.0,499.3 96.1,506.8 96.6,510.5 95.2,515.2 92.4,518.0" fill="none" stroke="#7a7a7a" stroke-width="0.9" stroke-linejoin="round"/>
<polyline points="78.9,466.2 84.9,467.1 89.6,468.5 92.4,470.4 90.0,473.2 91.0,474.1 93.3,476.0 93.8,480.6 94.2,486.2 95.2,495.6 93.8,503.0 91.9,508.6 90.0,514.2 85.4,519.8" fill="none" stroke="#e8141c" stroke-width="1.0" stroke-linejoin="round"/>
<polyline points="79.0,466.2 88.6,467.1 92.4,469.5 93.0,474.0 93.5,482.0 93.8,490.0 91.9,497.5 89.6,505.9 87.7,510.5 84.0,518.0" fill="none" stroke="#5a5a5a" stroke-width="0.9" stroke-linejoin="round"/>
<polyline points="101.7,466.2 102.6,469.5 102.2,473.2 100.8,476.9 100.8,485.3 101.0,494.0 100.8,499.3 99.4,508.6 98.0,514.2 97.0,518.0" fill="none" stroke="#424242" stroke-width="0.9" stroke-linejoin="round"/>
<polyline points="91.4,466.2 93.3,469.5 96.1,467.6 98.0,469.5 97.0,471.3 98.9,475.1 98.0,480.6 97.5,490.0 97.0,500.0 96.0,508.0 94.0,515.0" fill="none" stroke="#5a5a5a" stroke-width="0.9" stroke-linejoin="round"/>
<line x1="20.50" y1="466.00" x2="114.20" y2="466.00" stroke="#bdbdbd" stroke-width="1.2"/>
<line x1="22.00" y1="466.00" x2="22.00" y2="520.60" stroke="#b0b0b0" stroke-width="1.1"/>
<line x1="45.30" y1="464.80" x2="45.30" y2="467.20" stroke="#888" stroke-width="0.8"/>
<line x1="68.60" y1="464.80" x2="68.60" y2="467.20" stroke="#888" stroke-width="0.8"/>
<line x1="91.90" y1="464.80" x2="91.90" y2="467.20" stroke="#888" stroke-width="0.8"/>
<path d="M115.20,466.00 L112.80,464.70 L112.80,467.30Z" fill="#111"/>
<path d="M22.00,521.60 L20.70,519.20 L23.30,519.20Z" fill="#111"/>
<text x="22.00" y="460.40" font-size="5.4" text-anchor="middle" fill="#222" >0</text>
<text x="45.30" y="460.40" font-size="5.4" text-anchor="middle" fill="#222" >0.05</text>
<text x="68.60" y="460.40" font-size="5.4" text-anchor="middle" fill="#222" >0.1</text>
<text x="91.90" y="460.40" font-size="5.4" text-anchor="middle" fill="#222" >0.15</text>
<text x="115.20" y="460.40" font-size="5.4" text-anchor="middle" fill="#222" >0.2</text>
<text x="63.20" y="454.00" font-size="6.6" text-anchor="middle" fill="#222" >5-3</text>
<text x="120.10" y="453.80" font-size="6.5" text-anchor="end" fill="#222" >u [m/s]</text>
<text x="13.60" y="467.90" font-size="5.6" text-anchor="middle" fill="#222" >0.9</text>
<text x="15.60" y="523.90" font-size="5.6" text-anchor="middle" fill="#222" >1</text>
<text x="17.00" y="531.20" font-size="6.8" text-anchor="middle" fill="#222" >d/d<tspan font-size="4" dy="1.2">0</tspan></text>
<rect x="156.50" y="444.80" width="117.50" height="88.90" fill="none" stroke="#e2e2e2" stroke-width="1"/>
<polyline points="238.0,466.5 236.8,469.5 234.9,473.2 234.0,476.9 233.9,480.2 235.1,483.4 234.3,486.7 234.9,490.0 234.6,493.2 235.9,496.5 235.3,499.8 235.9,503.0 236.0,506.1 237.4,509.2 237.7,512.3 239.6,517.9" fill="none" stroke="#d0d0d0" stroke-width="0.8" stroke-linejoin="round"/>
<polyline points="209.9,467.6 209.0,476.0 209.9,485.3 211.8,494.0 214.0,501.0 217.0,508.0 219.0,514.0" fill="none" stroke="#b4b4b4" stroke-width="0.8" stroke-linejoin="round"/>
<polyline points="220.6,466.2 218.8,471.3 217.8,480.6 217.5,490.0 217.4,497.5 217.8,504.0 218.3,508.6 217.8,516.1" fill="none" stroke="#9a9a9a" stroke-width="0.8" stroke-linejoin="round"/>
<polyline points="210.5,466.5 209.9,468.0 204.3,469.9 200.6,471.3 204.3,473.2 198.7,476.9 204.3,479.2 208.5,481.1 205.3,483.4 204.3,487.2 204.3,490.0 204.8,495.6 206.7,502.1 209.0,507.7 212.2,510.0 209.9,514.2 215.0,517.5" fill="none" stroke="#7a7a7a" stroke-width="0.9" stroke-linejoin="round"/>
<polyline points="219.7,469.0 219.2,480.0 219.0,492.0 219.2,501.2 223.0,508.6 224.8,514.2" fill="none" stroke="#a8a8a8" stroke-width="0.8" stroke-linejoin="round"/>
<polyline points="220.6,465.7 217.4,468.5 214.6,472.3 213.6,476.0 214.1,480.6 214.6,488.1 215.0,494.0 216.0,497.5 219.2,504.0 222.0,509.6 224.8,516.1 226.7,519.8" fill="none" stroke="#e8141c" stroke-width="1.0" stroke-linejoin="round"/>
<polyline points="220.2,466.2 217.8,470.4 216.9,476.0 216.9,485.3 216.9,490.0 217.4,497.5 217.8,504.0 218.3,508.6 217.8,516.1" fill="none" stroke="#5a5a5a" stroke-width="0.9" stroke-linejoin="round"/>
<polyline points="220.5,466.0 217.0,472.0 214.5,480.0 213.6,490.0 215.5,495.6 217.4,503.0 218.8,508.6 218.8,514.2 219.7,518.0" fill="none" stroke="#424242" stroke-width="0.9" stroke-linejoin="round"/>
<line x1="174.20" y1="466.00" x2="266.00" y2="466.00" stroke="#bdbdbd" stroke-width="1.2"/>
<line x1="220.50" y1="466.00" x2="220.50" y2="520.60" stroke="#b0b0b0" stroke-width="1.1"/>
<line x1="174.20" y1="464.80" x2="174.20" y2="467.20" stroke="#888" stroke-width="0.8"/>
<line x1="197.30" y1="464.80" x2="197.30" y2="467.20" stroke="#888" stroke-width="0.8"/>
<line x1="220.40" y1="464.80" x2="220.40" y2="467.20" stroke="#888" stroke-width="0.8"/>
<line x1="243.50" y1="464.80" x2="243.50" y2="467.20" stroke="#888" stroke-width="0.8"/>
<path d="M267.00,466.00 L264.60,464.70 L264.60,467.30Z" fill="#111"/>
<path d="M220.50,521.60 L219.20,519.20 L221.80,519.20Z" fill="#111"/>
<text x="174.20" y="460.40" font-size="5.4" text-anchor="middle" fill="#222" >-0.02</text>
<text x="197.30" y="460.40" font-size="5.4" text-anchor="middle" fill="#222" >-0.01</text>
<text x="220.40" y="460.40" font-size="5.4" text-anchor="middle" fill="#222" >0</text>
<text x="243.50" y="460.40" font-size="5.4" text-anchor="middle" fill="#222" >0.01</text>
<text x="266.60" y="460.40" font-size="5.4" text-anchor="middle" fill="#222" >0.02</text>
<text x="215.00" y="454.00" font-size="6.6" text-anchor="middle" fill="#222" >5-3</text>
<text x="272.60" y="453.80" font-size="6.5" text-anchor="end" fill="#222" >v [m/s]</text>
<text x="212.00" y="467.90" font-size="5.6" text-anchor="middle" fill="#222" >0.9</text>
<text x="213.90" y="523.90" font-size="5.6" text-anchor="middle" fill="#222" >1</text>
<text x="205.10" y="531.20" font-size="6.8" text-anchor="middle" fill="#222" >d/d<tspan font-size="4" dy="1.2">0</tspan></text>
<rect x="308.00" y="444.80" width="117.70" height="88.90" fill="none" stroke="#e2e2e2" stroke-width="1"/>
<polyline points="398.0,466.5 398.2,473.3 398.7,484.5 398.2,501.5 397.6,512.7 392.5,519.5" fill="none" stroke="#d0d0d0" stroke-width="0.8" stroke-linejoin="round"/>
<polyline points="403.8,466.5 400.4,471.0 397.1,473.3 394.2,475.5 392.0,478.0 391.5,485.0 391.0,495.0 390.5,505.0 390.0,515.0" fill="none" stroke="#b4b4b4" stroke-width="0.8" stroke-linejoin="round"/>
<polyline points="378.5,471.6 390.9,472.1 395.0,474.0 399.3,475.5 404.9,476.7 400.4,477.8 396.0,478.5" fill="none" stroke="#9a9a9a" stroke-width="0.8" stroke-linejoin="round"/>
<polyline points="389.0,467.0 390.0,472.0 391.5,478.0 393.7,486.8 388.0,494.7 391.0,500.0 393.0,505.0 392.0,512.0 391.0,518.0" fill="none" stroke="#7a7a7a" stroke-width="0.9" stroke-linejoin="round"/>
<polyline points="394.2,478.9 395.4,484.5 394.2,490.2 395.4,495.8 394.2,501.5 395.4,507.1 394.0,513.0 392.0,518.0" fill="none" stroke="#a8a8a8" stroke-width="0.8" stroke-linejoin="round"/>
<polyline points="393.1,466.5 393.7,471.0 392.5,476.7 393.5,480.0 392.6,483.0 393.5,488.0 393.7,495.8 392.8,501.0 393.2,504.0 392.5,507.1 392.0,515.0 389.7,519.5" fill="none" stroke="#e8141c" stroke-width="1.0" stroke-linejoin="round"/>
<polyline points="386.3,466.5 387.5,473.3 386.9,484.5 387.5,495.8 386.9,507.1 387.5,517.2" fill="none" stroke="#5a5a5a" stroke-width="0.9" stroke-linejoin="round"/>
<polyline points="390.3,466.5 390.9,476.7 390.3,490.2 389.7,507.1 389.7,518.4" fill="none" stroke="#424242" stroke-width="0.9" stroke-linejoin="round"/>
<line x1="325.70" y1="466.00" x2="417.50" y2="466.00" stroke="#bdbdbd" stroke-width="1.2"/>
<line x1="372.30" y1="466.00" x2="372.30" y2="520.60" stroke="#b0b0b0" stroke-width="1.1"/>
<line x1="325.70" y1="464.80" x2="325.70" y2="467.20" stroke="#888" stroke-width="0.8"/>
<line x1="349.00" y1="464.80" x2="349.00" y2="467.20" stroke="#888" stroke-width="0.8"/>
<line x1="372.30" y1="464.80" x2="372.30" y2="467.20" stroke="#888" stroke-width="0.8"/>
<line x1="395.60" y1="464.80" x2="395.60" y2="467.20" stroke="#888" stroke-width="0.8"/>
<path d="M418.50,466.00 L416.10,464.70 L416.10,467.30Z" fill="#111"/>
<path d="M372.30,521.60 L371.00,519.20 L373.60,519.20Z" fill="#111"/>
<text x="325.70" y="460.40" font-size="5.4" text-anchor="middle" fill="#222" >-0.02</text>
<text x="349.00" y="460.40" font-size="5.4" text-anchor="middle" fill="#222" >-0.01</text>
<text x="372.30" y="460.40" font-size="5.4" text-anchor="middle" fill="#222" >0</text>
<text x="395.60" y="460.40" font-size="5.4" text-anchor="middle" fill="#222" >0.01</text>
<text x="418.90" y="460.40" font-size="5.4" text-anchor="middle" fill="#222" >0.02</text>
<text x="366.80" y="454.00" font-size="6.6" text-anchor="middle" fill="#222" >5-3</text>
<text x="424.30" y="453.80" font-size="6.5" text-anchor="end" fill="#222" >w [m/s]</text>
<text x="363.80" y="467.90" font-size="5.6" text-anchor="middle" fill="#222" >0.9</text>
<text x="365.70" y="523.90" font-size="5.6" text-anchor="middle" fill="#222" >1</text>
<text x="356.90" y="531.20" font-size="6.8" text-anchor="middle" fill="#222" >d/d<tspan font-size="4" dy="1.2">0</tspan></text>
<text x="214.80" y="545.50" font-size="9.0" text-anchor="middle" fill="#222" >(e)</text>
</svg></body></html>
